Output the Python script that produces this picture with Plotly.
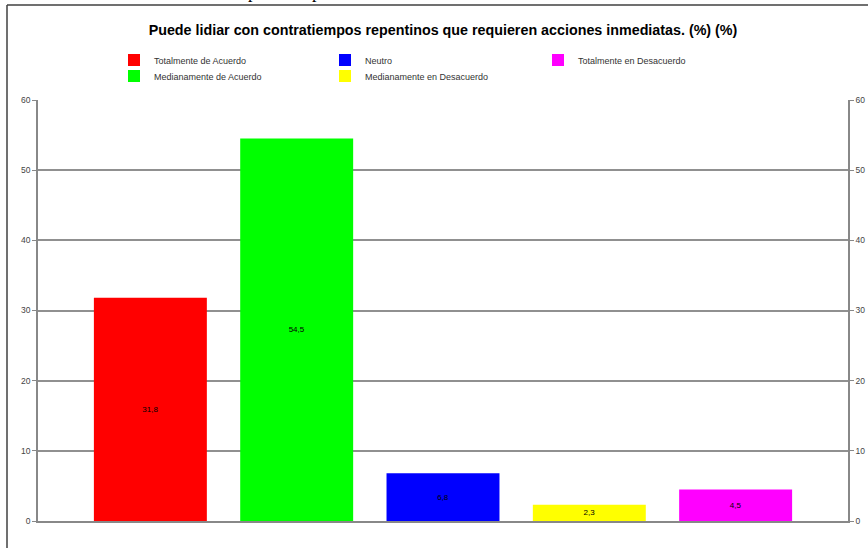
import plotly.graph_objects as go

categories = ["Totalmente de Acuerdo", "Medianamente de Acuerdo", "Neutro",
              "Medianamente en Desacuerdo", "Totalmente en Desacuerdo"]
values = [31.8, 54.5, 6.8, 2.3, 4.5]
colors = ["#ff0000", "#00ff00", "#0000ff", "#ffff00", "#ff00ff"]
y_ticks = [0, 10, 20, 30, 40, 50, 60]

title = "Puede lidiar con contratiempos repentinos que requieren acciones inmediatas. (%) (%)"

W, H = 868, 548
ML, MR, MT, MB = 38, 20, 100, 27

# legend layout: (legend id, x px of swatch center, y px of row center)
legend_slots = [("legend", 134, 60), ("legend2", 134, 76), ("legend3", 345, 60),
                ("legend4", 345, 76), ("legend5", 558, 60)]

fig = go.Figure()
for i, (cat, val, col) in enumerate(zip(categories, values, colors)):
    lid = legend_slots[i][0]
    fig.add_trace(go.Bar(
        x=[cat], y=[val], name=cat, marker=dict(color=col, line=dict(width=0)),
        width=0.772, text=[f"{val:.1f}".replace(".", ",")],
        textposition="inside", insidetextanchor="middle", textangle=0,
        textfont=dict(size=8, color="#000000", family="Liberation Sans, Arial"),
        legend=lid, yaxis="y",
    ))
# invisible trace to drive right axis
fig.add_trace(go.Scatter(x=[categories[0]], y=[0], yaxis="y2", mode="markers",
                         marker=dict(opacity=0), showlegend=False, hoverinfo="skip"))

legends = {}
for lid, sx, sy in legend_slots:
    legends[lid] = dict(
        xref="container", yref="container",
        x=(sx - 20) / W, y=1 - sy / H, xanchor="left", yanchor="middle",
        bgcolor="rgba(0,0,0,0)", borderwidth=0,
        font=dict(size=9, color="#333333", family="Liberation Sans, Arial"),
        itemclick=False, itemdoubleclick=False,
    )

def px_to_paper_x(px):
    return (px - ML) / (W - ML - MR)

def px_to_paper_y(py):
    return (H - MB - py) / (H - MT - MB)

frame_color = "#404040"
shapes = [
    dict(type="line", xref="paper", yref="paper",
         x0=px_to_paper_x(7), x1=px_to_paper_x(W + 2),
         y0=px_to_paper_y(5), y1=px_to_paper_y(5),
         line=dict(color=frame_color, width=1.5)),
    dict(type="line", xref="paper", yref="paper",
         x0=px_to_paper_x(7), x1=px_to_paper_x(7),
         y0=px_to_paper_y(5), y1=px_to_paper_y(H + 2),
         line=dict(color=frame_color, width=1.5)),
]

# clipped descenders of document text above the chart frame
annotations = [
    dict(text="p", xref="paper", yref="paper", x=px_to_paper_x(xp), y=px_to_paper_y(-7.5),
         xanchor="left", yanchor="middle", showarrow=False,
         font=dict(size=18, color="#000000", family="Liberation Serif, Times New Roman"))
    for xp in (246, 310)
]

tickfont = dict(size=8.5, color="#444444", family="Liberation Sans, Arial")

fig.update_layout(
    width=W, height=H,
    margin=dict(l=ML, r=MR, t=MT, b=MB, pad=0, autoexpand=False),
    paper_bgcolor="white", plot_bgcolor="white",
    barmode="overlay",
    title=dict(text=f"<b>{title}</b>", x=0.5, xref="paper", xanchor="center",
               y=1 - 30 / H, yref="container", yanchor="middle",
               font=dict(size=14.3, color="#000000", family="Liberation Sans, Arial")),
    xaxis=dict(type="category", categoryorder="array", categoryarray=categories,
               range=[-0.768, 4.768], showticklabels=False, ticks="",
               showgrid=False, showline=True, linecolor="#888888", linewidth=1.5,
               zeroline=False, fixedrange=True),
    yaxis=dict(range=[0, 60], tickvals=y_ticks, showgrid=True, gridcolor="#909090",
               gridwidth=1.5, showline=True, linecolor="#888888", linewidth=1.5,
               ticks="outside", ticklen=4, tickcolor="#888888", zeroline=False,
               tickfont=tickfont, fixedrange=True),
    yaxis2=dict(range=[0, 60], tickvals=y_ticks, overlaying="y", side="right",
                showgrid=False, showline=True, linecolor="#888888", linewidth=1.5,
                ticks="outside", ticklen=4, tickcolor="#888888", zeroline=False,
                tickfont=tickfont, fixedrange=True),
    shapes=shapes,
    annotations=annotations,
    **legends,
)

fig.write_html("out.html", config={"displayModeBar": False},
               post_script="document.body.style.margin='0px';")
